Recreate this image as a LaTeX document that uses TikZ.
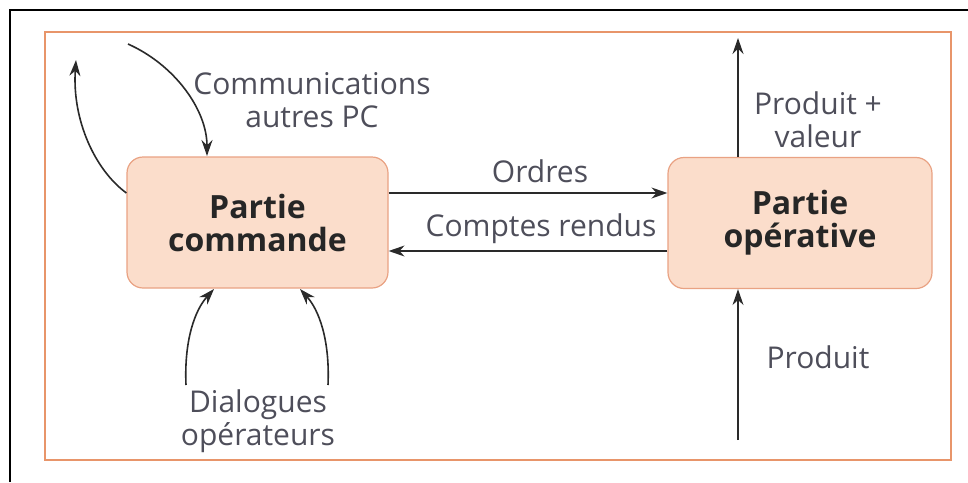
\documentclass[tikz,border=0pt]{standalone}
\usepackage{fontspec}
\setmainfont{Open Sans}
\usetikzlibrary{arrows.meta}
\definecolor{framec}{HTML}{E8956A}
\definecolor{boxfill}{HTML}{FBDDCB}
\definecolor{boxline}{HTML}{E9A283}
\definecolor{labelc}{HTML}{4E4E5A}
\definecolor{flowc}{HTML}{2A2A2A}
\tikzset{
  partbox/.style={draw=boxline, line width=1.2pt, fill=boxfill, rounded corners=16pt,
    minimum width=261pt, minimum height=131pt, align=center,
    font=\fontsize{32}{33}\selectfont\bfseries, text=black!85},
  lbl/.style={align=center, text=labelc, font=\fontsize{30}{33}\selectfont},
  flow/.style={draw=flowc, line width=1.6pt, -{Stealth[length=16pt,width=11pt]}}
}
\begin{document}
\begin{tikzpicture}[x=1pt,y=-1pt]
\useasboundingbox (0,0) rectangle (968,482);
% outer page frame (only top and left sides fall inside the page)
\draw[line width=1.6pt] (10,482) -- (10,10) -- (968,10);
% orange frame
\draw[framec, line width=1.3pt] (45,32) rectangle (951,460);

\node[partbox] (pc) at (257.5,222.5) {Partie\\commande};
\node[partbox, minimum width=264pt] (po) at (800,223) {Partie\\opérative};

% orders and reports
\draw[flow] (pc.east |- 0,193) -- (po.west |- 0,193);
\draw[flow] (po.west |- 0,251) -- (pc.east |- 0,251);
\node[lbl] (ord) at (540,171) {Ordres};
\node[lbl] (cr) at (541,229) {Comptes rendus};

% product flow
\coordinate (pin) at (738,440);
\coordinate (pout) at (738,38);
\draw[flow] (pin) -- (po.south -| pin);
\draw[flow] (po.north -| pin) -- (pout);
\node[lbl] (prodv) at (818,120) {Produit +\\valeur};
\node[lbl] (prod) at (818,357) {Produit};

% communications with other controllers
\coordinate (cin) at (128,44);
\coordinate (cout) at (76,60);
\draw[flow] (cin) .. controls (175,65) and (207,110) .. (207,156);
\draw[flow] (pc.west |- 0,193) .. controls (95,170) and (72,120) .. (cout);
\node[lbl] (com) at (312,100) {Communications\\autres PC};

% operator dialogues
\node[lbl] (dia) at (258,421) {Dialogues\\opérateurs};
\draw[flow] (186,385) .. controls (184,340) and (195,310) .. (214,289);
\draw[flow] (328,385) .. controls (330,340) and (319,310) .. (300,289);
\end{tikzpicture}
\end{document}
